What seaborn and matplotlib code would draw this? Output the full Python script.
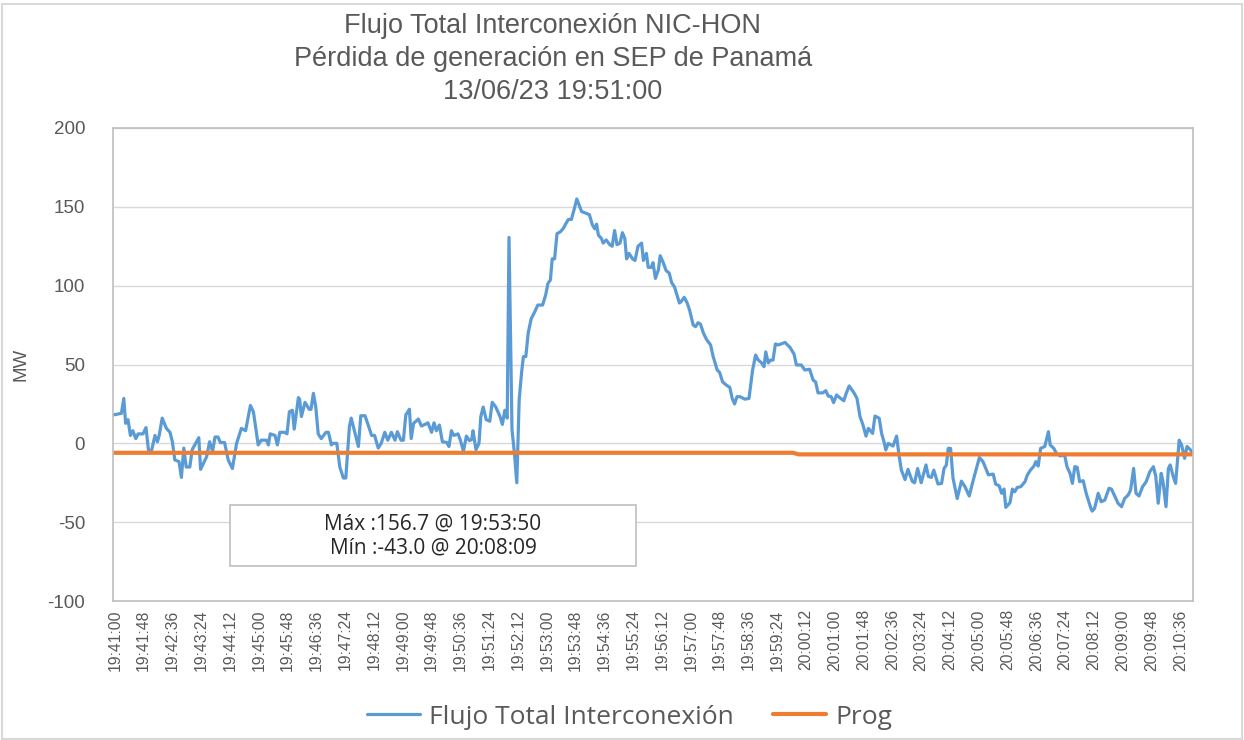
import pandas as pd
import matplotlib
matplotlib.use('Agg')
import matplotlib.pyplot as plt
import matplotlib.dates as mdates
from matplotlib.patches import Rectangle
import seaborn as sns

# segundos desde 19:41:00 y flujo en MW
t_seg = [-3, 11, 15, 18, 22, 26, 30, 35, 39, 47, 52, 56, 61, 67, 71, 74, 79, 86, 92, 96,
         100, 107, 111, 115, 119, 125, 129, 140, 143, 153, 158, 163, 167, 172, 176, 183, 189, 196, 203, 211,
         218, 226, 231, 239, 244, 253, 256, 259, 267, 271, 275, 283, 287, 291, 296, 299, 306, 308, 311, 317,
         324, 327, 331, 335, 339, 344, 352, 356, 361, 364, 370, 375, 381, 385, 391, 394, 400, 406, 410, 417,
         422, 428, 433, 439, 444, 450, 455, 461, 467, 471, 477, 481, 485, 491, 494, 498, 506, 511, 517, 522,
         528, 532, 536, 541, 546, 553, 557, 561, 565, 572, 576, 581, 586, 591, 595, 597, 602, 607, 610, 614,
         619, 625, 629, 635, 642, 646, 650, 654, 657, 662, 666, 670, 674, 678, 681, 685, 689, 694, 700, 705,
         713, 718, 722, 726, 729, 733, 737, 742, 747, 752, 756, 761, 766, 770, 774, 778, 785, 791, 796, 800,
         803, 806, 811, 814, 819, 825, 829, 833, 837, 842, 846, 850, 853, 857, 863, 867, 872, 878, 881, 886,
         889, 894, 897, 901, 906, 909, 914, 919, 924, 928, 933, 941, 944, 949, 954, 958, 964, 968, 972, 976,
         981, 986, 993, 997, 1004, 1008, 1013, 1019, 1025, 1029, 1033, 1037, 1042, 1050, 1057, 1063, 1068, 1072, 1078, 1082,
         1085, 1089, 1093, 1097, 1101, 1106, 1117, 1125, 1132, 1136, 1144, 1150, 1158, 1164, 1168, 1172, 1180, 1185, 1189, 1194,
         1198, 1203, 1208, 1215, 1219, 1224, 1232, 1237, 1242, 1247, 1252, 1256, 1263, 1267, 1274, 1278, 1282, 1285, 1289, 1297,
         1303, 1307, 1311, 1317, 1322, 1329, 1333, 1338, 1344, 1352, 1356, 1361, 1365, 1372, 1378, 1382, 1386, 1389, 1393, 1397,
         1404, 1411, 1417, 1424, 1431, 1441, 1447, 1456, 1464, 1468, 1474, 1478, 1482, 1485, 1492, 1496, 1500, 1504, 1510, 1517,
         1521, 1526, 1532, 1535, 1539, 1543, 1550, 1556, 1559, 1565, 1570, 1576, 1583, 1587, 1592, 1596, 1600, 1604, 1608, 1614,
         1619, 1627, 1629, 1633, 1639, 1644, 1650, 1657, 1661, 1667, 1672, 1678, 1683, 1689, 1693, 1698, 1702, 1707, 1713, 1719,
         1725, 1731, 1735, 1739, 1744, 1747, 1752, 1756, 1759, 1764, 1768, 1774, 1778, 1783, 1787, 1793, 1797]
flujo = [18, 19, 28.5, 12.7, 15, 5, 8, 3, 6, 6, 10, -4, -5, 5, 1, 5, 16, 9.5, 7, 1,
         -10.5, -11.6, -21.6, -3, -15, -15, -4, 3.6, -16.5, -8.5, 1, -5, 4, 4, 0.5, 0.5, -10.5, -16, 0, 9.5,
         8, 24, 20, -1, 2, 2, -1, 6, 5, -1, 7, 7, 6, 20, 21, 9, 29, 28, 17, 26,
         21.6, 21.6, 31.7, 23, 6, 3, 7, 7, -1, 0, 0, -15, -22, -22, 10.5, 16, 7, -2, 17.5, 17.5,
         12, 5, 5, -3, 0, 7, 2, 7, 2, 7.4, 2, 2, 18, 21.6, 3, 12.7, 15.4, 11, 12, 13,
         7, 13, 8, 11.6, 1, 0.6, -2, 8, 5, 6, 2, -5, 4.6, 1.7, 2.5, 8, -4, 0, 17, 23,
         15, 14, 26, 23, 17, 12, 21, 16, 130.6, 8.5, -6, -25, 28, 45, 55, 55, 70, 79, 83.5, 87.7,
         87.7, 94, 101.5, 103.6, 117, 117, 133, 134, 136, 139.5, 142, 142, 149, 155, 151, 147, 146, 145, 138.5, 136,
         139, 132, 130, 127, 129, 126, 125, 135, 126, 127, 133.6, 130, 117, 120.5, 117, 116, 125, 127, 116, 120.5,
         111.6, 111.6, 114.6, 104.6, 110, 119, 114.6, 109.5, 108, 102, 99, 89, 90, 92.6, 89, 84.5, 75, 74, 76.5, 75.7,
         70, 66, 62.4, 55.4, 46.5, 45, 39, 37, 35.5, 28.5, 25, 29.6, 29.6, 28, 28.5, 46.5, 56, 53, 51, 48.6,
         58, 51, 52.8, 52.8, 63, 62.4, 64, 61, 56.7, 49.7, 49.7, 46.5, 47, 40, 39, 32, 32, 33.4, 30, 29.6,
         25.8, 30.7, 29, 27, 31.7, 36.4, 32, 28.5, 17, 11.6, 4.6, 9.5, 6.3, 17.3, 15.9, 6.3, 1, -4.2, 0, -1.7,
         4.6, -7.4, -17, -23, -16.5, -24, -25, -16, -25, -13.7, -21, -21.6, -17, -25.8, -25.4, -16, -13.7, -3.2, -3.2, -22,
         -35, -24, -27.5, -33.4, -23, -9, -11.6, -20, -19.5, -25.8, -27, -31.7, -29, -40.6, -37.6, -29, -30.7, -28, -27.5, -24.3,
         -20, -17, -14.4, -11.6, -14.4, -3.2, -2, 7.4, -1, -3.2, -6.8, -8, -7.4, -14.8, -19, -25.4, -14.8, -15.2, -24.3, -23.7,
         -31.7, -41.5, -43, -41.2, -31.7, -37, -36, -28.5, -29, -33.8, -38, -40.2, -35, -32.8, -29.6, -15.9, -31.7, -33.4, -27.5, -24.3,
         -18, -14.8, -21, -38, -19, -24.3, -40.2, -15.9, -13.7, -21, -25.4, 2, -1, -9.5, -2, -4.2, -6.8]

prog_seg = [-3, 1130, 1140, 1797]
prog = [-6, -6, -7, -7]

inicio = pd.Timestamp("2023-06-13 19:41:00")
ticks = pd.date_range(inicio, periods=38, freq="48s")
y_ticks = [-100, -50, 0, 50, 100, 150, 200]

titulo = "Flujo Total Interconexión NIC-HON\nPérdida de generación en SEP de Panamá\n13/06/23 19:51:00"
texto_caja = "Máx :156.7 @ 19:53:50\nMín :-43.0 @ 20:08:09"

df = pd.DataFrame({"hora": inicio + pd.to_timedelta(t_seg, unit="s"), "MW": flujo})
df_prog = pd.DataFrame({"hora": inicio + pd.to_timedelta(prog_seg, unit="s"), "MW": prog})

sns.set_theme(style="white")
plt.rcParams['font.family'] = ['Liberation Sans', 'DejaVu Sans']
plt.rcParams['axes.unicode_minus'] = False
gris = "#595959"

fig = plt.figure(figsize=(12.44, 7.40), dpi=100)
ax = fig.add_axes([113 / 1244, 1 - 601 / 740, (1193 - 113) / 1244, (601 - 128) / 740])

sns.lineplot(data=df, x="hora", y="MW", ax=ax, color="#5B9BD5", linewidth=2.3,
             label="Flujo Total Interconexión", legend=False)
sns.lineplot(data=df_prog, x="hora", y="MW", ax=ax, color="#ED7D31", linewidth=3.0,
             label="Prog", legend=False)

ax.set_xlim(inicio + pd.Timedelta(seconds=-3), inicio + pd.Timedelta(seconds=1797))
ax.set_ylim(-100, 200)
ax.set_yticks(y_ticks)
ax.set_xticks(ticks)
ax.xaxis.set_major_formatter(mdates.DateFormatter("%H:%M:%S"))
ax.tick_params(axis="x", rotation=90, labelsize=11.3, colors=gris, length=0, pad=6)
ax.tick_params(axis="y", labelsize=13.5, colors=gris, length=0, pad=20)
ax.grid(axis="y", color="#D9D9D9", linewidth=1)
ax.set_axisbelow(True)
for sp in ax.spines.values():
    sp.set_color("#BFBFBF")
    sp.set_linewidth(1.2)
ax.set_xlabel("")
ax.set_ylabel("MW", fontsize=13.5, color=gris)
ax.yaxis.set_label_coords(-0.077, 0.5)

fig.text(0.4445, 0.982, titulo, ha="center", va="top", fontsize=19.5, color=gris, linespacing=1.33)

# cuadro de máximo / mínimo
fig.patches.append(Rectangle((230 / 1244, 1 - 566 / 740), 406 / 1244, 61 / 740,
                             transform=fig.transFigure, facecolor="white", edgecolor="#BFBFBF",
                             linewidth=1.2, zorder=5))
fig.text(433 / 1244, 1 - 536 / 740, texto_caja, ha="center", va="center", fontsize=15,
         color="#262626", family=["Open Sans", "DejaVu Sans"], linespacing=1.2, zorder=6)

handles, labels = ax.get_legend_handles_labels()
fig.legend(handles, labels, loc="center", bbox_to_anchor=(0.506, 1 - 717 / 740), ncol=2,
           frameon=False, handlelength=2.0, columnspacing=1.5, handletextpad=0.35,
           prop={"family": ["Open Sans", "DejaVu Sans"], "size": 19}, labelcolor=gris)

fig.patches.append(Rectangle((0.002, 0.002), 0.996, 0.992, transform=fig.transFigure,
                             facecolor="none", edgecolor="#D9D9D9", linewidth=1.5))

plt.savefig("out.png", dpi=100)
plt.close()
